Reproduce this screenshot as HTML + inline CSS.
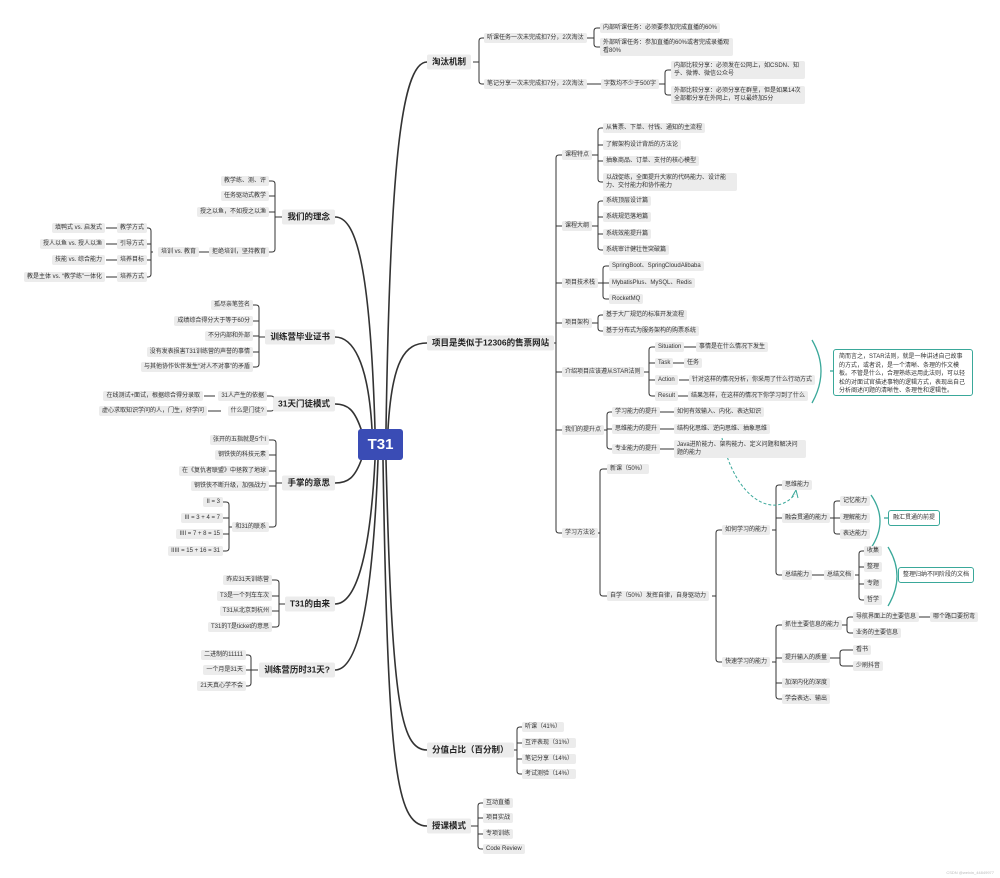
<!DOCTYPE html>
<html><head><meta charset="utf-8">
<style>
html,body{margin:0;padding:0;background:#fff;}
body{width:1000px;height:878px;position:relative;overflow:hidden;font-family:"Liberation Sans","Noto Sans CJK SC",sans-serif;}
svg{position:absolute;left:0;top:0;}
.n,.m,.nl,.ml{position:absolute;background:#ececec;color:#333;border-radius:2px;white-space:nowrap;transform:translateY(-50%);}
.n,.nl{font-size:6px;line-height:8px;padding:1px 3px;}
.m,.ml{font-size:8.5px;font-weight:bold;line-height:9px;padding:3px 5px;color:#222;}
.w{white-space:normal;}
.t{position:absolute;border:1.5px solid #3aa89a;border-radius:3px;background:#fff;font-size:6px;line-height:8.5px;color:#333;padding:3px 5px;box-sizing:border-box;}
.tn{white-space:nowrap;padding:3px 4px;}
#root{position:absolute;left:358px;top:429px;width:45px;height:31px;background:#3a4cb5;border-radius:3px;color:#fff;font-weight:bold;font-size:15px;line-height:31px;text-align:center;}
</style></head><body>
<svg id="s" width="1000" height="878" viewBox="0 0 1000 878"></svg>
<div id="root">T31</div>

<div class="m" style="left:427px;top:62px">淘汰机制</div>
<div class="n" style="left:484px;top:38px">听课任务一次未完成扣7分，2次淘汰</div>
<div class="n" style="left:600px;top:28px">内部听课任务：必须要参加完成直播的60%</div>
<div class="n w" style="left:600px;top:47px;width:127px">外部听课任务：参加直播的60%或者完成录播观看80%</div>
<div class="n" style="left:484px;top:84px">笔记分享一次未完成扣7分，2次淘汰</div>
<div class="n" style="left:601px;top:84px">字数均不少于500字</div>
<div class="n w" style="left:671px;top:70px;width:128px">内部比较分享：必须发在公网上，如CSDN、知乎、微博、微信公众号</div>
<div class="n w" style="left:671px;top:95px;width:128px">外部比较分享：必须分享在群里，但是如果14次全部都分享在外网上，可以最终加5分</div>

<div class="m" style="left:427px;top:343px">项目是类似于12306的售票网站</div>
<div class="n" style="left:562px;top:155px">课程特点</div>
<div class="n" style="left:603px;top:128px">从售票、下单、付钱、通知的主流程</div>
<div class="n" style="left:603px;top:145px">了解架构设计背后的方法论</div>
<div class="n" style="left:603px;top:161px">抽象商品、订单、支付的核心模型</div>
<div class="n w" style="left:603px;top:182px;width:128px">以战促练，全面提升大家的代码能力、设计能力、交付能力和协作能力</div>
<div class="n" style="left:562px;top:226px">课程大纲</div>
<div class="n" style="left:603px;top:201px">系统顶层设计篇</div>
<div class="n" style="left:603px;top:217px">系统规范落地篇</div>
<div class="n" style="left:603px;top:234px">系统效能提升篇</div>
<div class="n" style="left:603px;top:250px">系统审计健壮性突破篇</div>
<div class="n" style="left:562px;top:283px">项目技术栈</div>
<div class="n" style="left:609px;top:266px">SpringBoot、SpringCloudAlibaba</div>
<div class="n" style="left:609px;top:283px">MybatisPlus、MySQL、Redis</div>
<div class="n" style="left:609px;top:299px">RocketMQ</div>
<div class="n" style="left:562px;top:323px">项目架构</div>
<div class="n" style="left:603px;top:315px">基于大厂规范的标准开发流程</div>
<div class="n" style="left:603px;top:331px">基于分布式为服务架构的购票系统</div>
<div class="n" style="left:562px;top:372px">介绍项目应该遵从STAR法则</div>
<div class="n" style="left:655px;top:347px">Situation</div>
<div class="n" style="left:696px;top:347px">事情是在什么情况下发生</div>
<div class="n" style="left:655px;top:363px">Task</div>
<div class="n" style="left:684px;top:363px">任务</div>
<div class="n" style="left:655px;top:380px">Action</div>
<div class="n" style="left:689px;top:380px">针对这样的情况分析，你采用了什么行动方式</div>
<div class="n" style="left:655px;top:396px">Result</div>
<div class="n" style="left:688px;top:396px">结果怎样，在这样的情况下你学习到了什么</div>
<div class="t" style="left:833px;top:349px;width:140px;height:47px">简而言之，STAR法则，就是一种讲述自己故事的方式，或者说，是一个清晰、条理的作文模板。不管是什么，合理熟练运用此法则，可以轻松的对面试官描述事物的逻辑方式，表现出自己分析阐述问题的清晰性、条理性和逻辑性。</div>
<div class="n" style="left:562px;top:430px">我们的提升点</div>
<div class="n" style="left:612px;top:412px">学习能力的提升</div>
<div class="n" style="left:674px;top:412px">如何有效输入、内化、表达知识</div>
<div class="n" style="left:612px;top:429px">思维能力的提升</div>
<div class="n" style="left:674px;top:429px">结构化思维、逆向思维、抽象思维</div>
<div class="n" style="left:612px;top:449px">专业能力的提升</div>
<div class="n w" style="left:674px;top:449px;width:126px">Java进阶能力、架构能力、定义问题和解决问题的能力</div>
<div class="n" style="left:562px;top:533px">学习方法论</div>
<div class="n" style="left:607px;top:469px">新课（50%）</div>
<div class="n" style="left:607px;top:596px">自学（50%）发挥自律，自身驱动力</div>
<div class="n" style="left:722px;top:530px">如何学习的能力</div>
<div class="n" style="left:782px;top:485px">思维能力</div>
<div class="n" style="left:782px;top:518px">融会贯通的能力</div>
<div class="n" style="left:840px;top:501px">记忆能力</div>
<div class="n" style="left:840px;top:518px">理解能力</div>
<div class="n" style="left:840px;top:534px">表达能力</div>
<div class="t tn" style="left:888px;top:510px;height:16px;line-height:8px;">融汇贯通的前提</div>
<div class="n" style="left:782px;top:575px">总结能力</div>
<div class="n" style="left:824px;top:575px">总结文档</div>
<div class="n" style="left:864px;top:551px">收集</div>
<div class="n" style="left:864px;top:567px">整理</div>
<div class="n" style="left:864px;top:584px">专题</div>
<div class="n" style="left:864px;top:600px">哲学</div>
<div class="t tn" style="left:898px;top:567px;height:16px;line-height:8px;">整理归纳不同阶段的文档</div>
<div class="n" style="left:722px;top:662px">快速学习的能力</div>
<div class="n" style="left:782px;top:625px">抓住主要信息的能力</div>
<div class="n" style="left:853px;top:617px">导航界面上的主要信息</div>
<div class="n" style="left:930px;top:617px">哪个路口要拐弯</div>
<div class="n" style="left:853px;top:633px">业务的主要信息</div>
<div class="n" style="left:782px;top:658px">提升输入的质量</div>
<div class="n" style="left:853px;top:650px">看书</div>
<div class="n" style="left:853px;top:666px">少刷抖音</div>
<div class="n" style="left:782px;top:683px">加深内化的深度</div>
<div class="n" style="left:782px;top:699px">学会表达、输出</div>

<div class="m" style="left:427px;top:750px">分值占比（百分制）</div>
<div class="n" style="left:522px;top:727px">听课（41%）</div>
<div class="n" style="left:522px;top:743px">互评表现（31%）</div>
<div class="n" style="left:522px;top:759px">笔记分享（14%）</div>
<div class="n" style="left:522px;top:774px">考试测验（14%）</div>
<div class="m" style="left:427px;top:826px">授课模式</div>
<div class="n" style="left:483px;top:803px">互动直播</div>
<div class="n" style="left:483px;top:818px">项目实战</div>
<div class="n" style="left:483px;top:834px">专项训练</div>
<div class="n" style="left:483px;top:849px">Code Review</div>

<div class="ml" style="right:665px;top:217px">我们的理念</div>
<div class="nl" style="right:731px;top:181px">教学练、测、评</div>
<div class="nl" style="right:731px;top:196px">任务驱动式教学</div>
<div class="nl" style="right:731px;top:212px">授之以鱼，不如授之以渔</div>
<div class="nl" style="right:731px;top:252px">拒绝培训，坚持教育</div>
<div class="nl" style="right:801px;top:252px">培训 vs. 教育</div>
<div class="nl" style="right:853px;top:228px">教学方式</div>
<div class="nl" style="right:853px;top:244px">引导方式</div>
<div class="nl" style="right:853px;top:260px">培养目标</div>
<div class="nl" style="right:853px;top:277px">培养方式</div>
<div class="nl" style="right:895px;top:228px">填鸭式 vs. 启发式</div>
<div class="nl" style="right:895px;top:244px">授人以鱼 vs. 授人以渔</div>
<div class="nl" style="right:895px;top:260px">技能 vs. 综合能力</div>
<div class="nl" style="right:895px;top:277px">教是主体 vs. “教学练”一体化</div>

<div class="ml" style="right:665px;top:337px">训练营毕业证书</div>
<div class="nl" style="right:747px;top:305px">孤尽亲笔签名</div>
<div class="nl" style="right:747px;top:321px">成绩综合得分大于等于60分</div>
<div class="nl" style="right:747px;top:336px">不分内部和外部</div>
<div class="nl" style="right:747px;top:352px">没有发表损害T31训练营的声誉的事情</div>
<div class="nl" style="right:747px;top:367px">与其他协作伙伴发生“对人不对事”的矛盾</div>

<div class="ml" style="right:665px;top:404px">31天门徒模式</div>
<div class="nl" style="right:733px;top:396px">31人产生的依据</div>
<div class="nl" style="right:733px;top:411px">什么是门徒?</div>
<div class="nl" style="right:797px;top:396px">在线测试+面试，根据综合得分录取</div>
<div class="nl" style="right:793px;top:411px">虚心求取知识学问的人，门生，好学问</div>

<div class="ml" style="right:665px;top:483px">手掌的意思</div>
<div class="nl" style="right:731px;top:440px">张开的五指就是5个I</div>
<div class="nl" style="right:731px;top:455px">钢铁侠的科技元素</div>
<div class="nl" style="right:731px;top:471px">在《复仇者联盟》中拯救了地球</div>
<div class="nl" style="right:731px;top:486px">钢铁侠不断升级，加强战力</div>
<div class="nl" style="right:731px;top:527px">和31的联系</div>
<div class="nl" style="right:777px;top:502px">II = 3</div>
<div class="nl" style="right:777px;top:518px">III = 3 + 4 = 7</div>
<div class="nl" style="right:777px;top:534px">IIII = 7 + 8 = 15</div>
<div class="nl" style="right:777px;top:551px">IIIII = 15 + 16 = 31</div>

<div class="ml" style="right:665px;top:604px">T31的由来</div>
<div class="nl" style="right:728px;top:580px">昨应31天训练营</div>
<div class="nl" style="right:728px;top:596px">T3是一个列车车次</div>
<div class="nl" style="right:728px;top:611px">T31从北京到杭州</div>
<div class="nl" style="right:728px;top:627px">T31的T是ticket的意思</div>

<div class="ml" style="right:665px;top:670px">训练营历时31天?</div>
<div class="nl" style="right:754px;top:655px">二进制的11111</div>
<div class="nl" style="right:754px;top:670px">一个月是31天</div>
<div class="nl" style="right:754px;top:686px">21天真心学不会</div>

<div style="position:absolute;right:6px;bottom:3px;font-size:4px;color:#bbb">CSDN @weixin_44849977</div>

<script>
var s=document.getElementById('s'),NS='http://www.w3.org/2000/svg';
function P(d,w,c,extra){var p=document.createElementNS(NS,'path');p.setAttribute('d',d);p.setAttribute('fill','none');p.setAttribute('stroke',c||'#333');p.setAttribute('stroke-width',w||1);if(extra)for(var k in extra)p.setAttribute(k,extra[k]);s.appendChild(p);}
function B(px,py,bx,cx,ys){
  var sg=cx>px?1:-1;
  if(ys.length==1&&Math.abs(ys[0]-py)<1){P('M'+px+' '+py+'H'+cx);return;}
  P('M'+px+' '+py+'H'+bx);
  var y1=Math.min.apply(null,ys),y2=Math.max.apply(null,ys),r=3;
  P('M'+cx+' '+y1+'H'+(bx+sg*r)+'Q'+bx+' '+y1+' '+bx+' '+(y1+r)+'V'+(y2-r)+'Q'+bx+' '+y2+' '+(bx+sg*r)+' '+y2+'H'+cx);
  ys.forEach(function(y){if(y!=y1&&y!=y2)P('M'+bx+' '+y+'H'+cx);});
}
var W=1.6;
P('M386 429C390 180 400 62 427 62',W);
P('M388 429C392 360 405 343 427 343',W);
P('M386 460C392 700 400 750 427 750',W);
P('M383 460C388 760 395 826 427 826',W);
P('M375 429C370 260 355 217 335 217',W);
P('M372 429C368 360 352 337 335 337',W);
P('M362 432C355 410 348 404 335 404',W);
P('M362 458C355 478 348 483 335 483',W);
P('M375 460C370 560 355 604 335 604',W);
P('M378 460C372 620 355 670 335 670',W);
B(473,62,479,484,[38,84]);
B(586,38,594,600,[28,47]);
B(586,84,586,601,[84]);
B(657,84,665,671,[70,95]);
B(551,343,556,562,[155,226,283,323,372,430,533]);
B(591,155,598,603,[128,145,161,182]);
B(591,226,598,603,[201,217,234,250]);
B(597,283,603,609,[266,283,299]);
B(591,323,598,603,[315,331]);
B(643,372,649,655,[347,363,380,396]);
B(684,347,684,696,[347]);B(671,363,671,684,[363]);B(679,380,679,689,[380]);B(678,396,678,688,[396]);
B(602,430,607,612,[412,429,449]);
B(660,412,660,674,[412]);B(660,429,660,674,[429]);B(660,449,660,674,[449]);
B(593,533,600,607,[469,596]);
B(712,596,716,722,[530,662]);
B(772,530,776,782,[485,518,575]);
B(828,518,834,840,[501,518,534]);
B(812,575,812,824,[575]);
B(855,575,859,864,[551,567,584,600]);
B(772,662,776,782,[625,658,683,699]);
B(841,625,847,853,[617,633]);
B(918,617,918,930,[617]);
B(830,658,840,853,[650,666]);
B(512,750,517,522,[727,743,759,774]);
B(470,826,478,483,[803,818,834,849]);
B(282,217,275,269,[181,196,212,252]);
B(210,252,210,199,[252]);
B(153,252,151,147,[228,244,260,277]);
[228,244,260,277].forEach(function(y){B(118,y,118,106,[y]);});
B(267,337,259,253,[305,321,336,352,367]);
B(282,404,274,267,[396,411]);
B(215,396,215,204,[396]);B(221,411,221,208,[411]);
B(282,483,276,269,[440,455,471,486,527]);
B(235,527,229,223,[502,518,534,551]);
B(286,604,279,272,[580,596,611,627]);
B(258,670,251,246,[655,670,686]);
var T='#3aa89a';
P('M812 340Q830 371 812 403',1.3,T);
P('M871 495Q889 521 871 548',1.3,T);
P('M888 547Q906 576 888 606',1.3,T);
P('M830 371H833',1.3,T);P('M884 518H888',1.3,T);P('M901 575H898',1.3,T);
P('M722 438C735 500 775 520 795 494',1,T,{'stroke-dasharray':'3,2'});
P('M792 497L796 490L798 498',1,T);
</script>
</body></html>
